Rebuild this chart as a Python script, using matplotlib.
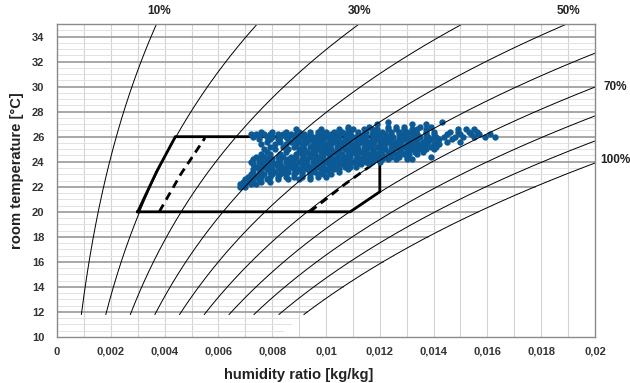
import numpy as np
import matplotlib
matplotlib.use('Agg')
import matplotlib.pyplot as plt

plt.rcParams['font.family'] = ['Liberation Sans', 'DejaVu Sans']

# chart constants
P_ATM = 95.0  # kPa, local air pressure of the chart
rh_levels = [0.1, 0.2, 0.3, 0.4, 0.5, 0.6, 0.7, 0.8, 0.9, 1.0]

xticks = [0, 0.002, 0.004, 0.006, 0.008, 0.01, 0.012, 0.014, 0.016, 0.018, 0.02]
xtick_labels = ['0', '0,002', '0,004', '0,006', '0,008', '0,01', '0,012',
                '0,014', '0,016', '0,018', '0,02']
yticks = [10, 12, 14, 16, 18, 20, 22, 24, 26, 28, 30, 32, 34]

# comfort zone (solid) and its inner dashed limits
zone_x = [0.0030, 0.0037, 0.0044, 0.0120, 0.0120, 0.0109, 0.0030]
zone_t = [20.0, 23.2, 26.0, 26.0, 21.6, 20.0, 20.0]
dash_left_x = [0.0038, 0.0046, 0.0055]
dash_left_t = [20.0, 23.0, 25.9]
dash_right_x = [0.0094, 0.0107, 0.0120]
dash_right_t = [20.0, 22.2, 24.2]

# measured room states: temperature row -> humidity ratios in g/kg
rows = {
    22.0: [6.8, 7.0],
    22.2: [6.8, 7.0, 7.2, 7.4],
    22.4: [6.9, 7.1, 7.3, 7.6, 7.9],
    22.6: [7.0, 7.2, 7.5, 7.8, 8.2, 8.6, 9.0, 9.4],
    22.8: [7.1, 7.4, 7.6, 7.9, 8.2, 8.5, 8.8, 9.1, 9.4, 9.7, 10.0],
    23.0: [7.2, 7.5, 7.7, 8.0, 8.3, 8.5, 8.8, 9.1, 9.4, 9.7, 9.9, 10.2],
    23.2: [7.3, 7.6, 7.9, 8.1, 8.4, 8.6, 8.9, 9.1, 9.4, 9.6, 9.9, 10.1,
           10.5],
    23.4: [7.3, 7.5, 7.8, 8.0, 8.3, 8.5, 8.8, 9.0, 9.3, 9.5, 9.8, 10.0,
           10.3, 10.5, 10.8],
    23.6: [7.4, 7.7, 7.9, 8.2, 8.4, 8.7, 8.9, 9.2, 9.4, 9.7, 9.9, 10.2,
           10.4, 10.7, 10.9, 11.1],
    23.8: [7.3, 7.6, 7.8, 8.1, 8.3, 8.6, 8.8, 9.1, 9.3, 9.6, 9.8, 10.1,
           10.3, 10.6, 10.8, 11.1, 11.3, 11.6],
    24.0: [7.2, 7.5, 7.7, 8.0, 8.2, 8.5, 8.7, 9.0, 9.2, 9.5, 9.7, 10.0,
           10.2, 10.5, 10.7, 11.0, 11.2, 11.5, 11.7, 12.0],
    24.2: [7.3, 7.5, 7.8, 8.0, 8.3, 8.6, 8.8, 9.1, 9.3, 9.6, 9.8, 10.1,
           10.3, 10.6, 10.8, 11.1, 11.3, 11.6, 11.8, 12.1, 12.3, 12.6, 13.0,
           13.2],
    24.4: [7.4, 7.7, 7.9, 8.2, 8.4, 8.7, 8.9, 9.2, 9.4, 9.7, 9.9, 10.2,
           10.4, 10.7, 10.9, 11.2, 11.4, 11.7, 11.9, 12.2, 12.4, 12.7, 13.0,
           13.9],
    24.6: [7.6, 7.9, 8.3, 8.9, 9.1, 9.4, 9.6, 9.9, 10.1, 10.4, 10.6,
           10.9, 11.1, 11.4, 11.6, 11.9, 12.1, 12.4, 12.6, 12.9, 13.1, 13.4],
    24.8: [7.8, 8.5, 9.0, 9.3, 9.5, 9.8, 10.0, 10.3, 10.5, 10.8,
           11.0, 11.3, 11.5, 11.8, 12.0, 12.3, 12.5, 12.8, 13.0, 13.3, 13.6],
    25.0: [7.7, 8.1, 8.6, 9.0, 9.2, 9.5, 9.7, 10.0, 10.2, 10.5, 10.7, 11.0,
           11.2, 11.5, 11.7, 12.0, 12.2, 12.5, 12.7, 13.0, 13.2, 13.5, 13.7,
           14.0],
    25.2: [7.9, 8.4, 8.8, 9.1, 9.4, 9.6, 9.9, 10.1, 10.4, 10.6, 10.9, 11.1,
           11.4, 11.6, 11.9, 12.1, 12.4, 12.6, 12.9, 13.1, 13.4, 13.6, 13.9,
           14.1],
    25.4: [7.6, 8.1, 8.5, 8.9, 9.2, 9.5, 9.7, 10.0, 10.2, 10.5, 10.7, 11.0,
           11.2, 11.5, 11.7, 12.0, 12.2, 12.5, 12.7, 13.0, 13.2, 13.5, 13.7,
           14.0, 14.2],
    25.6: [7.8, 8.3, 8.7, 9.0, 9.3, 9.6, 9.8, 10.1, 10.3, 10.6, 10.8, 11.1,
           11.3, 11.6, 11.8, 12.1, 12.3, 12.6, 12.8, 13.1, 13.3, 13.6, 13.8,
           14.1, 14.5, 15.0],
    25.8: [7.5, 7.9, 8.2, 8.6, 8.9, 9.2, 9.4, 9.7, 9.9, 10.2, 10.4, 10.7,
           10.9, 11.2, 11.4, 11.7, 11.9, 12.2, 12.4, 12.7, 12.9, 13.2, 13.4,
           13.7, 13.9, 14.2, 14.7],
    26.0: [7.3, 7.5, 7.8, 8.0, 8.3, 8.5, 8.8, 9.0, 9.3, 9.5, 9.8, 10.0,
           10.3, 10.5, 10.8, 11.0, 11.3, 11.5, 11.8, 12.0, 12.3, 12.5, 12.8,
           13.0, 13.3, 13.5, 13.8, 14.1, 14.4, 14.8, 15.1, 15.5, 15.9, 16.3],
    26.2: [7.2, 7.4, 7.7, 7.9, 8.2, 8.4, 8.7, 8.9, 9.2, 9.4, 9.7, 9.9,
           10.2, 10.4, 10.7, 10.9, 11.2, 11.4, 11.7, 11.9, 12.2, 12.4, 12.7,
           12.9, 13.2, 13.4, 13.7, 14.0, 14.5, 15.0, 15.4, 15.7, 16.1],
    26.4: [7.6, 8.0, 8.5, 9.0, 9.4, 9.7, 10.0, 10.3, 10.6, 10.9, 11.2, 11.5,
           11.8, 12.1, 12.4, 12.7, 13.0, 13.3, 13.7, 14.0, 14.6, 14.9, 15.3,
           15.6],
    26.6: [8.9, 9.8, 10.5, 10.8, 11.0, 11.4, 11.7, 11.9, 12.3, 12.6, 12.9,
           13.2, 13.4, 13.7, 14.9, 15.2, 15.5],
    26.8: [10.8, 11.6, 12.3, 12.6, 12.9, 13.5, 13.9],
    27.0: [11.9, 13.2, 13.7],
    27.2: [12.3, 14.3],
}


def x_sat(t, phi=1.0):
    # humidity ratio at relative humidity phi (Magnus formula)
    ps = 0.61094 * np.exp(17.625 * t / (t + 243.04))
    return 0.622 * phi * ps / (P_ATM - phi * ps)


meas_x = []
meas_t = []
for t, xs in rows.items():
    for x in xs:
        meas_x.append(x / 1000.)
        meas_t.append(t)

fig = plt.figure(figsize=(6.3, 3.83), dpi=100)
ax = fig.add_axes([0.0905, 0.1201, 0.8539, 0.8172])

# grid: vertical lines every 0.001, horizontal lines up to saturation
for x in np.arange(0.001, 0.0200, 0.001):
    ax.plot([x, x], [10, 35], color='#d4d4d4', lw=0.8, zorder=1)
for t in np.arange(10.5, 35.01, 0.5):
    xe = min(x_sat(t), 0.02)
    if abs(t % 2) < 1e-6:
        ax.plot([0, xe], [t, t], color='#a0a0a0', lw=1.3, zorder=2)
    else:
        ax.plot([0, xe], [t, t], color='#e2e2e2', lw=0.7, zorder=1)

# comfort zone
ax.plot(zone_x, zone_t, color='black', lw=2.0, zorder=3,
        solid_joinstyle='miter')
ax.plot(dash_left_x, dash_left_t, color='black', lw=2.0, ls=(0, (3, 2)),
        zorder=3)
ax.plot(dash_right_x, dash_right_t, color='black', lw=2.0, ls=(0, (3, 2)),
        zorder=3)

# measurements
ax.scatter(meas_x, meas_t, s=21, color='#0b5a96', linewidths=0, zorder=4)

# relative humidity curves
tt = np.linspace(11.8, 35.5, 200)
for phi in rh_levels:
    ax.plot(x_sat(tt, phi), tt, color='black', lw=0.7, zorder=5)

lab = dict(fontsize=8.5, fontweight='bold', color='#222222')
ax.text(0.0038, 35.55, '10%', ha='center', va='bottom', **lab)
ax.text(0.01125, 35.55, '30%', ha='center', va='bottom', **lab)
ax.text(0.0190, 35.55, '50%', ha='center', va='bottom', **lab)
ax.text(0.0203, 30.0, '70%', ha='left', va='center', **lab)
ax.text(0.0202, 24.1, '100%', ha='left', va='center', **lab)

ax.set_xlim(0, 0.02)
ax.set_ylim(10, 35)
ax.set_xticks(xticks)
ax.set_xticklabels(xtick_labels)
ax.set_yticks(yticks)
ax.tick_params(length=0, labelsize=8, labelcolor='#333333')
ax.tick_params(axis='x', pad=7)
ax.tick_params(axis='y', pad=9)
for lbl in ax.get_xticklabels() + ax.get_yticklabels():
    lbl.set_fontweight('bold')
for sp in ax.spines.values():
    sp.set_color('#8a8a8a')
    sp.set_linewidth(1.0)
    sp.set_zorder(6)

ax.set_xlabel('humidity ratio [kg/kg]', fontsize=10.6, fontweight='bold',
              color='#222222')
ax.set_ylabel('room temperature [°C]', fontsize=10.6, fontweight='bold',
              color='#222222')
ax.xaxis.set_label_coords(0.45, -0.10)
ax.yaxis.set_label_coords(-0.061, 0.53)

fig.savefig('out.png', dpi=100)
